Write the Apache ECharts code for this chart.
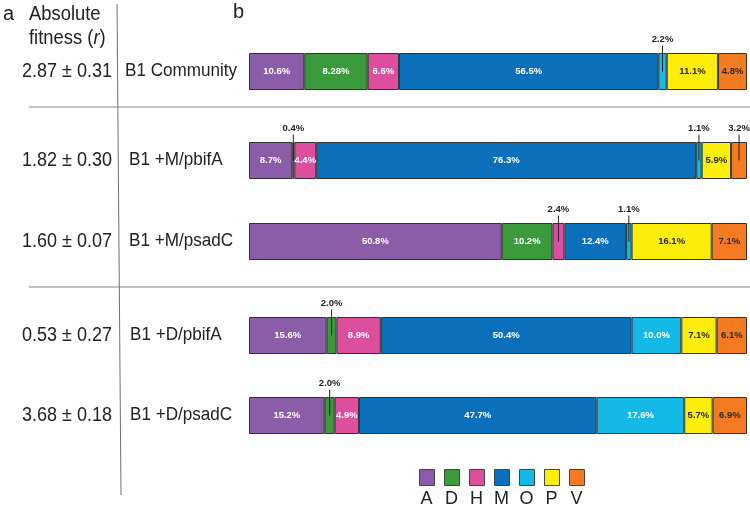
<!DOCTYPE html>
<html><head><meta charset="utf-8">
<script src="https://cdn.jsdelivr.net/npm/echarts@6/dist/echarts.min.js"></script>
<style>html,body{margin:0;padding:0;background:#fff}#c{width:750px;height:510px}</style>
</head><body><div id="c"></div>
<script>
// ---- data ----
const groups = ['B1 Community', 'B1 +M/pbifA', 'B1 +M/psadC', 'B1 +D/pbifA', 'B1 +D/psadC'];
const fitness = ['2.87 ± 0.31', '1.82 ± 0.30', '1.60 ± 0.07', '0.53 ± 0.27', '3.68 ± 0.18'];
const components = ['A', 'D', 'H', 'M', 'O', 'P', 'V'];
// segment shares as drawn in the picture (%)
const rowCommunity = [11.1, 12.7, 6.3, 52.0, 1.7, 10.3, 5.8];
const rowMpbifA   = [8.7, 0.4, 4.4, 76.3, 1.1, 5.9, 3.2];
const rowMpsadC   = [50.8, 10.2, 2.4, 12.4, 1.1, 16.1, 7.1];
const rowDpbifA   = [15.6, 2.0, 8.9, 50.4, 10.0, 7.1, 6.1];
const rowDpsadC   = [15.2, 2.0, 4.9, 47.7, 17.6, 5.7, 6.9];
// percentage labels printed on the segments
const labelsCommunity = ['10.6%', '8.28%', '6.6%', '56.5%', '2.2%', '11.1%', '4.8%'];
const labelsMpbifA   = ['8.7%', '0.4%', '4.4%', '76.3%', '1.1%', '5.9%', '3.2%'];
const labelsMpsadC   = ['50.8%', '10.2%', '2.4%', '12.4%', '1.1%', '16.1%', '7.1%'];
const labelsDpbifA   = ['15.6%', '2.0%', '8.9%', '50.4%', '10.0%', '7.1%', '6.1%'];
const labelsDpsadC   = ['15.2%', '2.0%', '4.9%', '47.7%', '17.6%', '5.7%', '6.9%'];
const rows = [rowCommunity, rowMpbifA, rowMpsadC, rowDpbifA, rowDpsadC];
const rowLabels = [labelsCommunity, labelsMpbifA, labelsMpsadC, labelsDpbifA, labelsDpsadC];
// segments whose label sits above the bar with a leader line: [row, component]
const callouts = [[0, 4], [1, 1], [1, 4], [1, 6], [2, 2], [2, 4], [3, 1], [4, 1]];

// ---- styling / layout ----
const colors = ['#8b5ca8', '#3b9a3c', '#dc4f9f', '#0b70bb', '#14b9e7', '#fcee0a', '#f47b22'];
const darkText = ['P', 'V'];
const FONT = 'Liberation Sans, Arial, sans-serif';
const gridTops = [53, 142, 223, 317, 397];
const barH = 37;
const labelX = [125, 129, 129, 130, 130];

function isCallout(r, c) { return callouts.some(p => p[0] === r && p[1] === c); }

const grid = [], xAxis = [], yAxis = [], series = [];
rows.forEach((row, r) => {
  grid.push({ left: 249, width: 498, top: gridTops[r], height: barH });
  xAxis.push({ type: 'value', gridIndex: r, min: 0, max: e => e.max, show: false });
  yAxis.push({ type: 'category', gridIndex: r, data: [groups[r]], show: false });
  row.forEach((v, c) => {
    const txt = rowLabels[r][c];
    const label = isCallout(r, c) ? {
      show: true, position: ['50%', '50%'], align: 'center', verticalAlign: 'bottom',
      formatter: '{t|' + txt + '}\n{l|}',
      rich: {
        t: { fontSize: 9.5, fontWeight: 'bold', color: '#222', fontFamily: FONT, lineHeight: 13, align: 'center' },
        l: { width: 1, height: 26, backgroundColor: '#222', align: 'center' }
      }
    } : {
      show: true, position: 'inside', formatter: txt,
      color: darkText.includes(components[c]) ? '#2a2a2a' : '#ffffff',
      fontSize: 9.5, fontWeight: 'bold', fontFamily: FONT
    };
    series.push({
      type: 'bar', name: components[c], stack: 'row' + r,
      xAxisIndex: r, yAxisIndex: r, barWidth: '100%',
      itemStyle: { color: colors[c], borderColor: '#333', borderWidth: 1 },
      emphasis: { disabled: true },
      data: [{ value: v, label }]
    });
  });
});

const graphic = [
  { type: 'line', shape: { x1: 117, y1: 4, x2: 121, y2: 495 }, style: { stroke: '#707070', lineWidth: 1 } },
  { type: 'line', shape: { x1: 29, y1: 107, x2: 750, y2: 107 }, style: { stroke: '#808080', lineWidth: 1 } },
  { type: 'line', shape: { x1: 29, y1: 287, x2: 750, y2: 287 }, style: { stroke: '#808080', lineWidth: 1 } },
  { type: 'text', x: 3, y: 14, style: { text: 'a', font: '20px ' + FONT, fill: '#222', verticalAlign: 'middle' } },
  { type: 'text', x: 233, y: 12, style: { text: 'b', font: '20px ' + FONT, fill: '#222', verticalAlign: 'middle' } },
  { type: 'text', x: 29, y: 14, scaleX: 0.92, style: { text: 'Absolute', font: '20px ' + FONT, fill: '#222', verticalAlign: 'middle' } },
  { type: 'text', x: 29, y: 38, scaleX: 0.92, style: {
      text: '{n|fitness (}{i|r}{n|)}', verticalAlign: 'middle',
      rich: { n: { font: '20px ' + FONT, fill: '#222' }, i: { font: 'italic 20px ' + FONT, fill: '#222' } } } }
];
rows.forEach((row, r) => {
  const cy = gridTops[r] + barH / 2;
  graphic.push({ type: 'text', x: 112, y: cy, scaleX: 0.9,
    style: { text: fitness[r], font: '20px ' + FONT, fill: '#222', align: 'right', verticalAlign: 'middle' } });
  graphic.push({ type: 'text', x: labelX[r], y: cy, scaleX: 0.95,
    style: { text: groups[r], font: '18px ' + FONT, fill: '#222', align: 'left', verticalAlign: 'middle' } });
});
components.forEach((name, i) => {
  graphic.push({ type: 'text', x: 426.5 + 25 * i, y: 499,
    style: { text: name, font: '18px ' + FONT, fill: '#222', align: 'center', verticalAlign: 'middle' } });
});

const chart = echarts.init(document.getElementById('c'), null, { renderer: 'canvas' });
chart.setOption({
  animation: false,
  backgroundColor: '#fff',
  grid, xAxis, yAxis, series, graphic,
  legend: {
    data: components, left: 419, top: 469, orient: 'horizontal', padding: 0,
    icon: 'rect', itemWidth: 15, itemHeight: 16, itemGap: 9,
    formatter: () => '', selectedMode: false,
    itemStyle: { borderColor: '#444', borderWidth: 1 },
    textStyle: { fontSize: 1 }
  },
  tooltip: { show: false }
});
</script></body></html>
